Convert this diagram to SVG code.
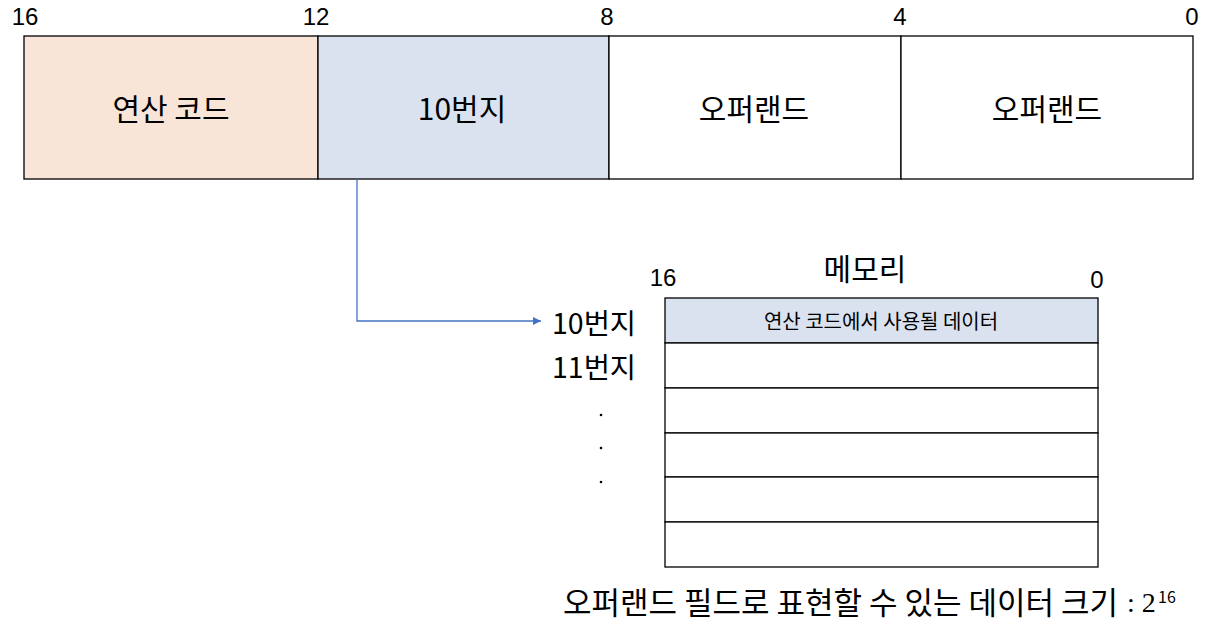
<svg xmlns="http://www.w3.org/2000/svg" width="1214" height="634" viewBox="0 0 1214 634">
<style>
text { font-family: "Noto Sans CJK KR", "Noto Sans", sans-serif; fill: #000; }
.bit { font-family: "Liberation Sans", Arial, sans-serif; font-size: 24px; text-anchor: middle; }
.lbl { font-size: 30px; text-anchor: middle; dominant-baseline: central; }
.addr { font-size: 28.5px; dominant-baseline: central; }
.cellbox { stroke: #000; stroke-width: 1.3; }
.small { font-size: 20px; text-anchor: middle; dominant-baseline: central; }
</style>
<defs>
<marker id="arr" viewBox="0 0 10 10" refX="10" refY="5" markerWidth="11" markerHeight="8" markerUnits="userSpaceOnUse" orient="auto">
<path d="M0,0 L10,5 L0,10 z" fill="#4472C4"/>
</marker>
</defs>
<rect width="1214" height="634" fill="#fff"/>

<g id="bit-labels">
<text class="bit" x="25" y="25">16</text>
<text class="bit" x="316" y="25">12</text>
<text class="bit" x="607" y="25">8</text>
<text class="bit" x="900" y="25">4</text>
<text class="bit" x="1192" y="25">0</text>
</g>

<g id="opcode">
<rect class="cellbox" x="24" y="36" width="294" height="143" fill="#F8E5D7"/>
<text class="lbl" x="171" y="107">연산 코드</text>
</g>
<g id="address">
<rect class="cellbox" x="318" y="36" width="291" height="143" fill="#DAE2F0"/>
<text class="lbl" x="462" y="107">10번지</text>
</g>
<g id="operand1">
<rect class="cellbox" x="609" y="36" width="292" height="143" fill="#fff"/>
<text class="lbl" x="754" y="107">오퍼랜드</text>
</g>
<g id="operand2">
<rect class="cellbox" x="901" y="36" width="292" height="143" fill="#fff"/>
<text class="lbl" x="1047" y="107">오퍼랜드</text>
</g>

<g id="connectors">
<path d="M357,179 V321 H541" fill="none" stroke="#4472C4" stroke-width="1.3" marker-end="url(#arr)"/>
</g>

<g id="memory">
<text class="lbl" x="865" y="267">메모리</text>
<text class="bit" x="663" y="286">16</text>
<text class="bit" x="1097" y="288">0</text>
<rect class="cellbox" x="665" y="298" width="433" height="45" fill="#DAE2F0"/>
<text class="small" x="881" y="320">연산 코드에서 사용될 데이터</text>
<rect class="cellbox" x="665" y="343" width="433" height="45" fill="#fff"/>
<rect class="cellbox" x="665" y="388" width="433" height="45" fill="#fff"/>
<rect class="cellbox" x="665" y="433" width="433" height="44" fill="#fff"/>
<rect class="cellbox" x="665" y="477" width="433" height="45" fill="#fff"/>
<rect class="cellbox" x="665" y="522" width="433" height="45" fill="#fff"/>
</g>

<g id="addresses">
<text class="addr" x="552" y="321">10번지</text>
<text class="addr" x="552" y="365">11번지</text>
<circle cx="601" cy="415" r="1.3" fill="#000"/>
<circle cx="601" cy="448" r="1.3" fill="#000"/>
<circle cx="601" cy="482" r="1.3" fill="#000"/>
</g>

<g id="caption">
<text x="563" y="614" style="font-size:31px">오퍼랜드 필드로 표현할 수 있는 데이터 크기</text>
<text x="1127" y="612" style="font-family:'Liberation Serif', serif; font-size:28px">: 2</text>
<text x="1158" y="603" style="font-size:16px">16</text>
</g>
</svg>
